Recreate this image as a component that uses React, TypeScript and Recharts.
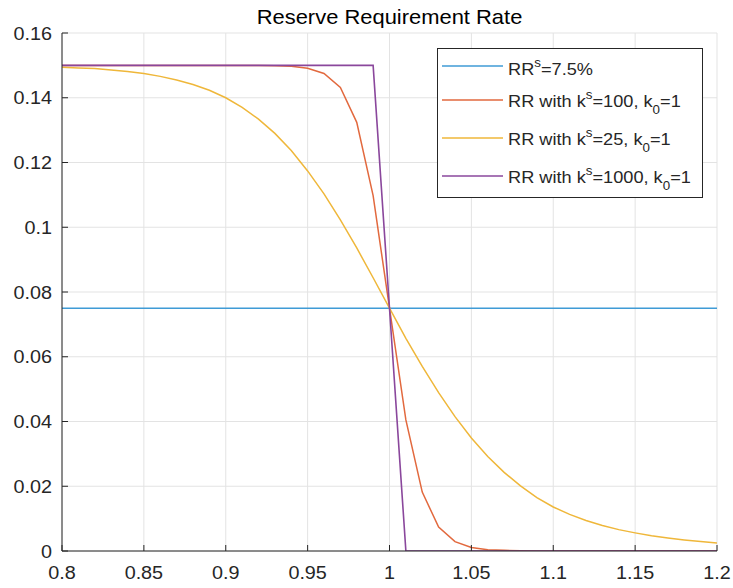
import React from 'react';
import { LineChart, Line, XAxis, YAxis, CartesianGrid, Legend } from 'recharts';

const xValues = [
  0.8, 0.81, 0.82, 0.83, 0.84, 0.85, 0.86, 0.87, 0.88, 0.89,
  0.9, 0.91, 0.92, 0.93, 0.94, 0.95, 0.96, 0.97, 0.98, 0.99,
  1.0,
  1.01, 1.02, 1.03, 1.04, 1.05, 1.06, 1.07, 1.08, 1.09, 1.1,
  1.11, 1.12, 1.13, 1.14, 1.15, 1.16, 1.17, 1.18, 1.19, 1.2,
];

const rrFlat = [
  0.075, 0.075, 0.075, 0.075, 0.075, 0.075, 0.075, 0.075, 0.075, 0.075,
  0.075, 0.075, 0.075, 0.075, 0.075, 0.075, 0.075, 0.075, 0.075, 0.075,
  0.075,
  0.075, 0.075, 0.075, 0.075, 0.075, 0.075, 0.075, 0.075, 0.075, 0.075,
  0.075, 0.075, 0.075, 0.075, 0.075, 0.075, 0.075, 0.075, 0.075, 0.075,
];

const rrK100 = [
  0.15, 0.15, 0.15, 0.15, 0.15, 0.15, 0.15, 0.15, 0.15, 0.15,
  0.15, 0.15, 0.15, 0.1499, 0.1497, 0.1491, 0.1475, 0.1432, 0.1324, 0.1098,
  0.075,
  0.0405, 0.0182, 0.0074, 0.0029, 0.0011, 0.0004, 0.0002, 0.0001, 0, 0,
  0, 0, 0, 0, 0, 0, 0, 0, 0, 0,
];

const rrK25 = [
  0.1494, 0.1492, 0.149, 0.1486, 0.1481, 0.1475, 0.1466, 0.1455, 0.1441, 0.1423,
  0.14, 0.137, 0.1334, 0.129, 0.1237, 0.1174, 0.1103, 0.1023, 0.0936, 0.0844,
  0.075,
  0.0657, 0.057, 0.0489, 0.0415, 0.0349, 0.0292, 0.0243, 0.0201, 0.0165, 0.0136,
  0.0113, 0.0094, 0.0079, 0.0066, 0.0056, 0.0047, 0.004, 0.0034, 0.0029, 0.0025,
];

const rrK1000 = [
  0.15, 0.15, 0.15, 0.15, 0.15, 0.15, 0.15, 0.15, 0.15, 0.15,
  0.15, 0.15, 0.15, 0.15, 0.15, 0.15, 0.15, 0.15, 0.15, 0.15,
  0.075,
  0, 0, 0, 0, 0, 0, 0, 0, 0, 0,
  0, 0, 0, 0, 0, 0, 0, 0, 0, 0,
];

const xTicks = [0.8, 0.85, 0.9, 0.95, 1.0, 1.05, 1.1, 1.15, 1.2];
const xTickLabels = ['0.8', '0.85', '0.9', '0.95', '1', '1.05', '1.1', '1.15', '1.2'];
const yTicks = [0, 0.02, 0.04, 0.06, 0.08, 0.1, 0.12, 0.14, 0.16];
const yTickLabels = ['0', '0.02', '0.04', '0.06', '0.08', '0.1', '0.12', '0.14', '0.16'];

const titleText = 'Reserve Requirement Rate';

type Seg = { t: string; k?: 'sup' | 'sub' };
const seriesKeys = ['flat', 'k100', 'k25', 'k1000'];
const seriesColors = ['#3f9bd6', '#e2693e', '#efb73a', '#8a479c'];
const seriesWidths = [1.5, 1.5, 1.5, 1.6];
const legendLabels: Seg[][] = [
  [{ t: 'RR' }, { t: 's', k: 'sup' }, { t: '=7.5%' }],
  [{ t: 'RR with k' }, { t: 's', k: 'sup' }, { t: '=100, k' }, { t: '0', k: 'sub' }, { t: '=1' }],
  [{ t: 'RR with k' }, { t: 's', k: 'sup' }, { t: '=25, k' }, { t: '0', k: 'sub' }, { t: '=1' }],
  [{ t: 'RR with k' }, { t: 's', k: 'sup' }, { t: '=1000, k' }, { t: '0', k: 'sub' }, { t: '=1' }],
];

const data = xValues.map((x, i) => ({
  x,
  flat: rrFlat[i],
  k100: rrK100[i],
  k25: rrK25[i],
  k1000: rrK1000[i],
}));

const FONT = '"Liberation Sans", Arial, Helvetica, sans-serif';
const AXIS = '#262626';
const SX = 1.07;

const XTick = (props: any) => {
  const { x, y, payload } = props;
  const idx = xTicks.findIndex((v) => Math.abs(v - payload.value) < 1e-9);
  return (
    <g>
      <line x1={x} x2={x} y1={y} y2={y - 6} stroke={AXIS} strokeWidth={1} />
      <text
        transform={`translate(${x},${y + 28}) scale(${SX},1)`}
        textAnchor="middle"
        fontSize={18.5}
        fontFamily={FONT}
        fill={AXIS}
      >
        {xTickLabels[idx]}
      </text>
    </g>
  );
};

const YTick = (props: any) => {
  const { x, y, payload } = props;
  const idx = yTicks.findIndex((v) => Math.abs(v - payload.value) < 1e-9);
  return (
    <g>
      <line x1={x} x2={x + 6} y1={y} y2={y} stroke={AXIS} strokeWidth={1} />
      <text
        transform={`translate(${x - 10},${y + 6.5}) scale(${SX},1)`}
        textAnchor="end"
        fontSize={18.5}
        fontFamily={FONT}
        fill={AXIS}
      >
        {yTickLabels[idx]}
      </text>
    </g>
  );
};

const lineYs = [18, 52, 90, 128];
const baseYs = [27, 58.7, 97, 135.3];

const shiftOf = (k?: string) => (k === 'sup' ? -8 : k === 'sub' ? 7 : 0);

const LegendBox = () => (
  <svg width={266} height={150} style={{ display: 'block' }}>
    <rect x={0.5} y={0.5} width={265} height={149} fill="#ffffff" stroke={AXIS} strokeWidth={1} />
    {legendLabels.map((segs, i) => {
      let prev = 0;
      return (
        <g key={i}>
          <line x1={5} x2={66} y1={lineYs[i]} y2={lineYs[i]} stroke={seriesColors[i]} strokeWidth={1.5} />
          <text
            transform={`translate(71,${baseYs[i]}) scale(${SX},1)`}
            fontSize={17}
            fontFamily={FONT}
            fill={AXIS}
          >
            {segs.map((s, j) => {
              const sh = shiftOf(s.k);
              const dy = sh - prev;
              prev = sh;
              return (
                <tspan key={j} dy={dy} fontSize={s.k ? 12.5 : 17}>
                  {s.t}
                </tspan>
              );
            })}
          </text>
        </g>
      );
    })}
  </svg>
);

export default function App() {
  return (
    <div style={{ position: 'absolute', left: 0, top: 0, width: 733, height: 588, background: '#ffffff' }}>
      <LineChart
        width={733}
        height={588}
        data={data}
        margin={{ top: 33, right: 16, bottom: 0, left: 0 }}
      >
        <CartesianGrid stroke="#e3e3e3" strokeWidth={1} />
        <XAxis
          dataKey="x"
          type="number"
          domain={[0.8, 1.2]}
          ticks={xTicks}
          interval={0}
          allowDataOverflow
          height={37}
          tickSize={0}
          tickMargin={0}
          tickLine={false}
          axisLine={{ stroke: AXIS, strokeWidth: 1 }}
          tick={<XTick />}
        />
        <YAxis
          type="number"
          domain={[0, 0.16]}
          ticks={yTicks}
          interval={0}
          allowDataOverflow
          width={62}
          tickSize={0}
          tickMargin={0}
          tickLine={false}
          axisLine={{ stroke: AXIS, strokeWidth: 1 }}
          tick={<YTick />}
        />
        {seriesKeys.map((k, i) => (
          <Line
            key={k}
            type="linear"
            dataKey={k}
            stroke={seriesColors[i]}
            strokeWidth={seriesWidths[i]}
            dot={false}
            activeDot={false}
            isAnimationActive={false}
          />
        ))}
        <Legend
          layout="vertical"
          align="center"
          verticalAlign="middle"
          wrapperStyle={{ left: 437, top: 48, width: 266, height: 150 }}
          content={() => <LegendBox />}
        />
      </LineChart>
      <svg
        width={733}
        height={40}
        style={{ position: 'absolute', left: 0, top: 0, pointerEvents: 'none' }}
      >
        <text
          transform={`translate(389.5,24) scale(${SX},1)`}
          textAnchor="middle"
          fontSize={20.5}
          fontFamily={FONT}
          fill="#000000"
        >
          {titleText}
        </text>
      </svg>
    </div>
  );
}
